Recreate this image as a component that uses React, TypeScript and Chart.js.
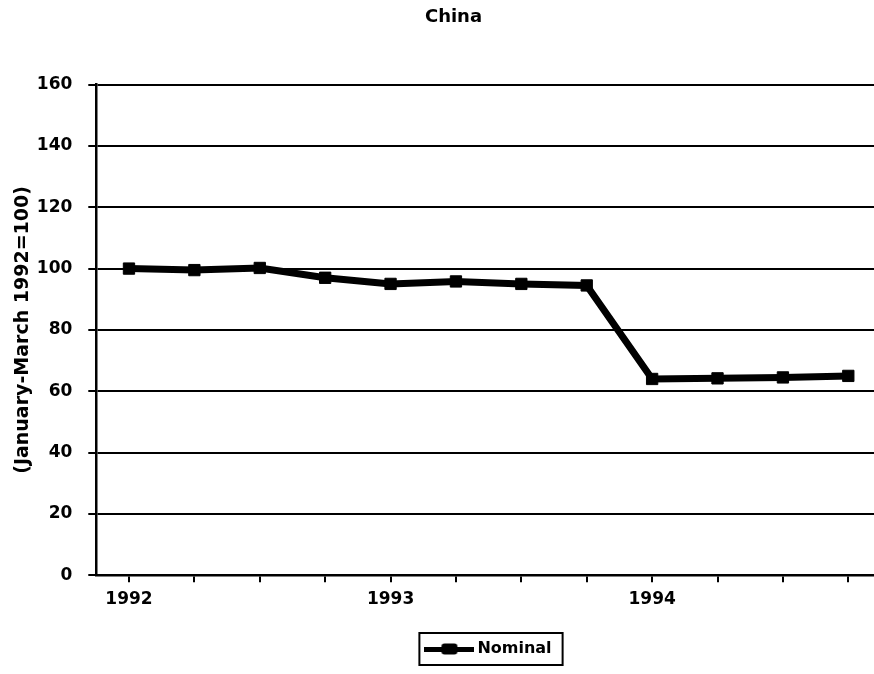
import React, { useEffect, useRef } from 'react';
import { Chart, registerables } from 'chart.js';

Chart.register(...registerables);

// ---- data ----
const quarters = [
  '1992Q1', '1992Q2', '1992Q3', '1992Q4',
  '1993Q1', '1993Q2', '1993Q3', '1993Q4',
  '1994Q1', '1994Q2', '1994Q3', '1994Q4',
];
const nominal = [100, 99.5, 100.2, 97, 95, 95.8, 95, 94.5, 64, 64.2, 64.5, 65];
const yearLabels = ['1992', '1993', '1994'];
const yMin = 0;
const yMax = 160;
const yStep = 20;
const chartTitle = 'China';
const yAxisTitle = '(January-March 1992=100)';
const seriesName = 'Nominal';

const FONT = "'DejaVu Sans', 'Liberation Sans', sans-serif";
const CANVAS_W = 906;
const CANVAS_H = 674;
const LEGEND_SHIFT = 50;
const TITLE_SHIFT = 13;

function makeLegendSymbol(): HTMLCanvasElement {
  const c = document.createElement('canvas');
  c.width = 50;
  c.height = 14;
  const g = c.getContext('2d')!;
  g.fillStyle = '#000';
  g.fillRect(0, 5, 50, 5);
  g.beginPath();
  (g as any).roundRect ? (g as any).roundRect(17, 1.5, 16, 11, 3) : g.rect(17, 1.5, 16, 11);
  g.fill();
  return c;
}

const blockShift = {
  id: 'blockShift',
  afterLayout(chart: any) {
    const lg = chart.legend;
    if (lg) {
      lg.left += LEGEND_SHIFT;
      lg.right += LEGEND_SHIFT;
    }
    const tb = chart.titleBlock;
    if (tb) {
      tb.left += TITLE_SHIFT;
      tb.right += TITLE_SHIFT;
    }
  },
  afterDraw(chart: any) {
    const lg = chart.legend;
    if (!lg || !lg.legendHitBoxes || !lg.legendHitBoxes.length) return;
    const hb = lg.legendHitBoxes[0];
    const ctx = chart.ctx;
    ctx.save();
    ctx.strokeStyle = '#000';
    ctx.lineWidth = 2;
    const cy = hb.top + hb.height / 2;
    ctx.strokeRect(hb.left - 10, cy - 16, hb.width + 21, 32);
    ctx.restore();
  },
};

export default function App() {
  const ref = useRef<HTMLCanvasElement | null>(null);

  useEffect(() => {
    if (!ref.current) return;
    const symbol = makeLegendSymbol();
    const chart = new Chart(ref.current, {
      type: 'line',
      data: {
        labels: quarters,
        datasets: [
          {
            label: seriesName,
            data: nominal,
            borderColor: '#000',
            backgroundColor: '#000',
            borderWidth: 7,
            tension: 0,
            pointStyle: 'rect',
            pointRadius: 8,
            pointBorderWidth: 1,
            pointBackgroundColor: '#000',
            pointBorderColor: '#000',
          },
        ],
      },
      options: {
        responsive: false,
        animation: false,
        layout: { padding: { left: 0, right: 25, top: 0, bottom: 7 } },
        plugins: {
          tooltip: { enabled: false },
          title: {
            display: true,
            text: chartTitle,
            color: '#000',
            font: { family: FONT, size: 18, weight: 'bold' },
            padding: { top: 7, bottom: 56 },
          },
          legend: {
            display: true,
            position: 'bottom',
            labels: {
              color: '#000',
              font: { family: FONT, size: 16, weight: 'bold' },
              usePointStyle: true,
              pointStyle: symbol as any,
              pointStyleWidth: 40,
              padding: 10,
            },
          },
        },
        scales: {
          x: {
            type: 'category',
            offset: true,
            border: { display: true, color: '#000', width: 2.5 },
            grid: {
              display: true,
              offset: false,
              drawOnChartArea: false,
              drawTicks: true,
              tickLength: 7,
              color: '#000',
              lineWidth: 2,
            },
            ticks: {
              autoSkip: false,
              maxRotation: 0,
              color: '#000',
              padding: 7,
              font: { family: FONT, size: 17, weight: 'bold' },
              callback: (_v: any, i: number) => (i % 4 === 0 ? yearLabels[i / 4] : ''),
            },
            title: {
              display: true,
              text: '',
              padding: { top: 0, bottom: 0 },
            },
          },
          y: {
            min: yMin,
            max: yMax,
            border: { display: true, color: '#000', width: 2.5 },
            grid: {
              color: '#000',
              lineWidth: 2,
              drawTicks: true,
              tickLength: 8,
            },
            ticks: {
              stepSize: yStep,
              color: '#000',
              padding: 16,
              font: { family: FONT, size: 17, weight: 'bold' },
            },
            title: {
              display: true,
              text: yAxisTitle,
              color: '#000',
              font: { family: FONT, size: 19, weight: 'bold' },
              padding: { top: 12, bottom: -14 },
            },
          },
        },
      },
      plugins: [blockShift],
    });
    return () => chart.destroy();
  }, []);

  return (
    <div
      style={{
        position: 'absolute',
        left: 0,
        top: 0,
        width: 874,
        height: CANVAS_H,
        overflow: 'hidden',
        background: '#fff',
      }}
    >
      <canvas ref={ref} width={CANVAS_W} height={CANVAS_H} style={{ display: 'block' }} />
    </div>
  );
}
